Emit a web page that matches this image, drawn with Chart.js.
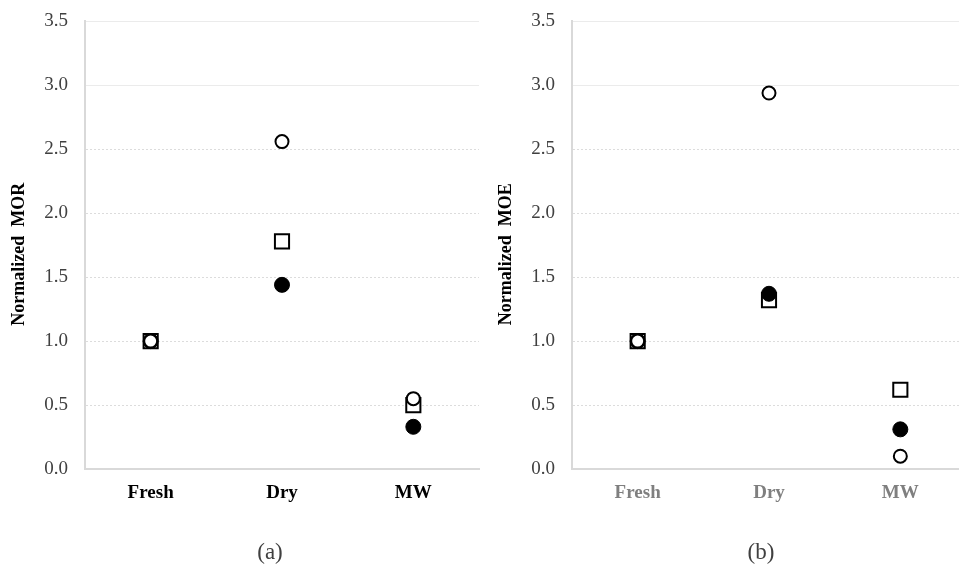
<!DOCTYPE html>
<html>
<head>
<meta charset="utf-8">
<script src="https://cdn.jsdelivr.net/npm/chart.js@4/dist/chart.umd.min.js"></script>
<style>
  html, body { margin: 0; padding: 0; background: #fff; }
  body { width: 959px; height: 569px; overflow: hidden; position: relative; }
  .box { position: absolute; top: -7px; }
  .caption {
    position: absolute; top: 539px; width: 60px; text-align: center;
    font-family: "Liberation Serif", "DejaVu Serif", serif; font-size: 23px; color: #404040;
  }
</style>
</head>
<body>
<div class="box" style="left:0px;"><canvas id="morChart" width="491" height="576"></canvas></div>
<div class="box" style="left:487px;"><canvas id="moeChart" width="491" height="576"></canvas></div>
<div class="caption" style="left:240px;">(a)</div>
<div class="caption" style="left:731px;">(b)</div>
<script>
// categories and values
const categories = ['Fresh', 'Dry', 'MW'];
const yTicks = [0, 0.5, 1.0, 1.5, 2.0, 2.5, 3.0, 3.5];

const morOpen = [1.00, 2.56, 0.55];
const morSquare = [1.00, 1.78, 0.50];
const morFilled = [1.00, 1.44, 0.33];

const moeOpen = [1.00, 2.94, 0.10];
const moeSquare = [1.00, 1.32, 0.62];
const moeFilled = [1.00, 1.37, 0.31];

const serif = '"Liberation Serif", "DejaVu Serif", serif';

function makeChart(id, yTitle, openVals, squareVals, filledVals, xColor) {
    const ctx = document.getElementById(id).getContext('2d');
    return new Chart(ctx, {
        type: 'line',
        data: {
            labels: categories,
            datasets: [{
                // open circles (drawn on top)
                data: openVals,
                showLine: false,
                pointStyle: 'circle',
                pointRadius: 6.5,
                pointBackgroundColor: '#fff',
                pointBorderColor: '#000',
                pointBorderWidth: 2
            }, {
                data: filledVals,
                showLine: false,
                pointStyle: 'circle',
                pointRadius: 7.5,
                pointBackgroundColor: '#000',
                pointBorderColor: '#000',
                pointBorderWidth: 1
            }, {
                data: squareVals,
                showLine: false,
                pointStyle: 'rect',
                pointRadius: 10,
                pointBackgroundColor: '#fff',
                pointBorderColor: '#000',
                pointBorderWidth: 2
            }]
        },
        options: {
            responsive: false,
            animation: false,
            layout: { padding: { left: 0, right: 0, top: 13, bottom: 0 } },
            plugins: {
                legend: { display: false },
                tooltip: { enabled: false }
            },
            scales: {
                x: {
                    offset: true,
                    grid: { display: false, drawTicks: false },
                    border: { display: true, color: '#d9d9d9', width: 2 },
                    ticks: {
                        padding: 13,
                        color: xColor,
                        font: { family: serif, size: 19, weight: 'bold' }
                    },
                    afterFit: function(scale) { scale.height = 100; }
                },
                y: {
                    min: 0,
                    max: 3.5,
                    afterBuildTicks: function(scale) {
                        scale.ticks = yTicks.map(v => ({ value: v }));
                    },
                    grid: {
                        drawTicks: false,
                        color: ctx => ctx.tick && ctx.tick.value >= 3 ? '#ebebeb' : '#dcdcdc',
                        lineWidth: 1
                    },
                    border: { display: true, color: '#d9d9d9', width: 2, dash: ctx => ctx.tick && ctx.tick.value >= 3 ? [] : [2, 2] },
                    ticks: {
                        padding: 17,
                        color: '#404040',
                        font: { family: serif, size: 19 },
                        callback: v => Number(v).toFixed(1)
                    },
                    title: {
                        display: true,
                        // trailing spaces nudge the title down like in the original
                        text: 'Normalized  ' + yTitle + '\u00a0\u00a0\u00a0\u00a0',
                        color: '#000',
                        padding: { top: 9, bottom: 0 },
                        font: { family: serif, size: 18, weight: 'bold' }
                    },
                    afterFit: function(scale) { scale.width = 85; }
                }
            }
        }
    });
}

makeChart('morChart', 'MOR', morOpen, morSquare, morFilled, '#000');
makeChart('moeChart', 'MOE', moeOpen, moeSquare, moeFilled, '#7f7f7f');
</script>
</body>
</html>
